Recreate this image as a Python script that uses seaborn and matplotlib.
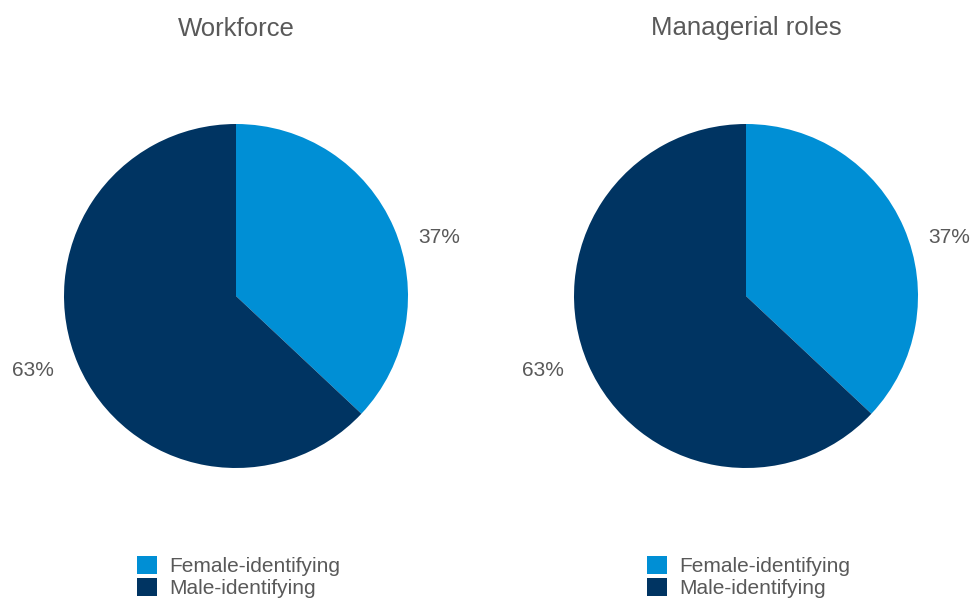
import matplotlib
matplotlib.use("Agg")
import matplotlib.pyplot as plt
import seaborn as sns

sns.set_theme(style="white")
plt.rcParams['font.family'] = ['Liberation Sans', 'DejaVu Sans']

titles = ["Workforce", "Managerial roles"]
categories = ["Female-identifying", "Male-identifying"]
workforce = [37, 63]
managerial = [37, 63]
series = [workforce, managerial]
colors = ["#008FD5", "#003462"]
text_color = "#595959"

W, H = 971, 599
fig = plt.figure(figsize=(W / 100, H / 100), dpi=100)
fig.patch.set_facecolor("white")

centers_x = [236, 746]
cy = 296
half = 215

for i, (title, vals) in enumerate(zip(titles, series)):
    cx = centers_x[i]
    ax = fig.add_axes([(cx - half) / W, (H - cy - half) / H, 2 * half / W, 2 * half / H])
    wedges, texts, autotexts = ax.pie(
        vals, colors=colors, startangle=90, counterclock=False,
        autopct=lambda p: f"{p:.0f}%", pctdistance=1.22,
        textprops=dict(color=text_color, fontsize=15),
        wedgeprops=dict(linewidth=0),
    )
    for t in autotexts:
        x, y = t.get_position()
        t.set_position((x * 1.055, y * 0.8 - 0.045))
    ax.set_xlim(-1.25, 1.25)
    ax.set_ylim(-1.25, 1.25)
    ax.set_aspect("equal")
    ax.axis("off")
    fig.text(cx / W, 1 - 28.5 / H, title, ha="center", va="center",
             fontsize=18.5, color=text_color)
    leg = ax.legend(wedges, categories, loc="upper left",
                    bbox_to_anchor=((cx - 99) / W, 1 - 556 / H),
                    bbox_transform=fig.transFigure, frameon=False,
                    fontsize=15, handlelength=0.95, handleheight=0.95,
                    handletextpad=0.62, labelspacing=0.1,
                    borderpad=0, borderaxespad=0)
    for t in leg.get_texts():
        t.set_color(text_color)

fig.savefig("out.png", dpi=100, facecolor="white")
